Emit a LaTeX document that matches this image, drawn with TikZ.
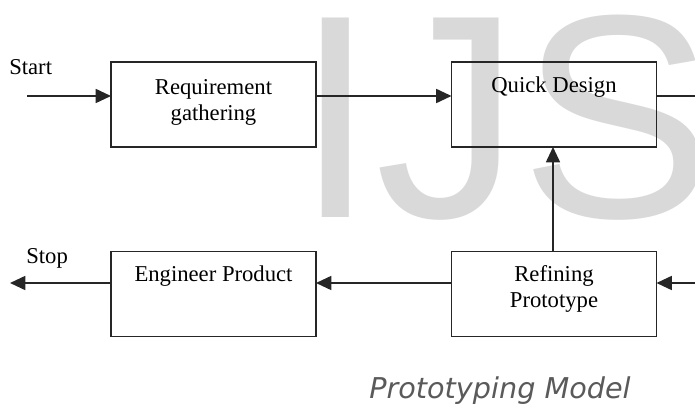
\documentclass[tikz,border=0pt]{standalone}
\usepackage{fontspec}
\setmainfont{Liberation Serif}
\newfontfamily\markfont{Liberation Sans}
\newfontfamily\captionfont{DejaVu Sans}
\usetikzlibrary{arrows.meta}

\definecolor{linecol}{HTML}{262626}
\definecolor{markcol}{HTML}{D9D9D9}
\definecolor{capcol}{HTML}{5A5A5A}

\tikzset{
  stagebox/.style={draw=linecol, line width=1.3pt, minimum width=153.75pt,
    minimum height=63.75pt, inner sep=0pt, outer sep=0pt},
  boxtext/.style={anchor=base, inner sep=0pt, text=black,
    font=\fontsize{17}{20}\selectfont},
  flow/.style={draw=linecol, line width=1.3pt,
    -{Triangle[length=11.5pt,width=10.5pt]}},
  plainflow/.style={draw=linecol, line width=1.3pt}
}

\begin{document}
\begin{tikzpicture}[x=0.75pt, y=-0.75pt]
  \useasboundingbox (0,0) rectangle (695,406);
  \clip (0,0) rectangle (695,406);
  \fill[white] (0,0) rectangle (695,406);

  % large pale lettering behind the chart
  \node[anchor=base west, inner sep=0pt, text=markcol,
        font=\markfont\fontsize{217.5}{217.5}\selectfont] (mark) at (295,217) {IJS};

  % stage boxes
  \node[stagebox] (req) at (213.5,104.5) {};
  \node[stagebox] (qd)  at (554,104.5) {};
  \node[stagebox] (eng) at (213.5,294) {};
  \node[stagebox] (ref) at (554,294) {};

  % box captions
  \node[boxtext] (reqA) at (213.5,95)  {Requirement};
  \node[boxtext] (reqB) at (213.5,121) {gathering};
  \node[boxtext] (qdA)  at (554,93)    {Quick Design};
  \node[boxtext] (engA) at (213.5,281) {Engineer Product};
  \node[boxtext] (refA) at (554,281)   {Refining};
  \node[boxtext] (refB) at (554,307)   {Prototype};

  % terminal labels
  \node[boxtext, anchor=base west] (start) at (9,75)  {Start};
  \node[boxtext, anchor=base west] (stop)  at (26,263) {Stop};

  % rows of the flow
  \coordinate (rowA) at (0,96);
  \coordinate (rowB) at (0,283);
  \coordinate (inL)  at (27,96);
  \coordinate (outR) at (697,96);
  \coordinate (inR)  at (697,283);
  \coordinate (outL) at (10,283);

  \draw[flow] (inL) -- (req.west |- rowA);
  \draw[flow] (req.east |- rowA) -- (qd.west |- rowA);
  \draw[plainflow] (qd.east |- rowA) -- (outR);
  \draw[flow] (inR) -- (ref.east |- rowB);
  \draw[flow] (ref.north -| 553,0) -- (qd.south -| 553,0);
  \draw[flow] (ref.west |- rowB) -- (eng.east |- rowB);
  \draw[flow] (eng.west |- rowB) -- (outL);

  % caption
  \node[anchor=base, inner sep=0pt, text=capcol,
        font=\captionfont\itshape\fontsize{21.5}{24}\selectfont] (title) at (500,398) {Prototyping Model};
\end{tikzpicture}
\end{document}
